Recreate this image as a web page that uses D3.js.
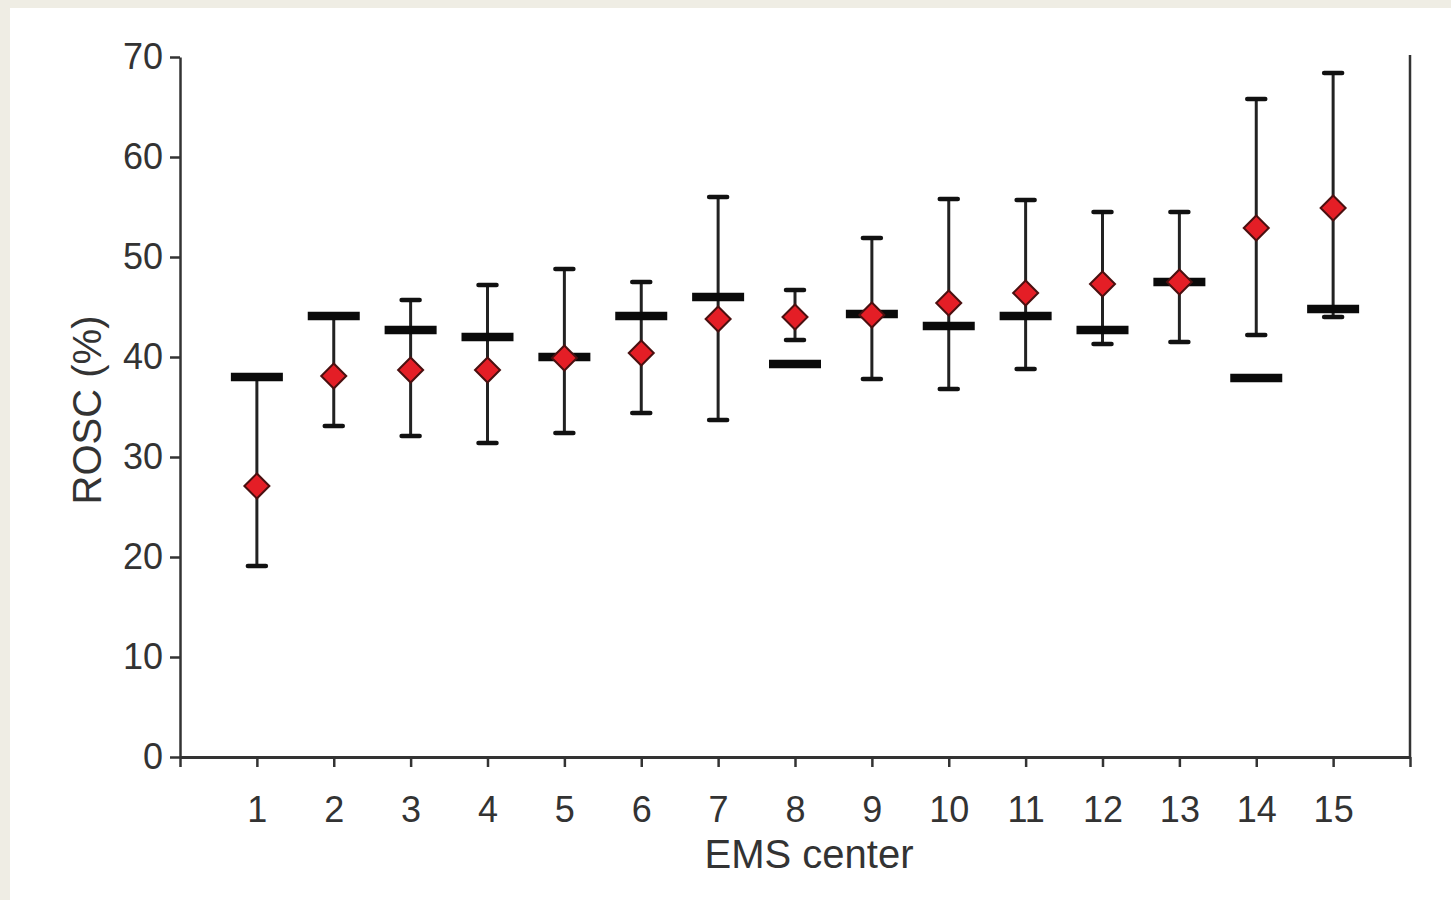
<!DOCTYPE html>
<html>
<head>
<meta charset="utf-8">
<script src="https://cdn.jsdelivr.net/npm/d3@7"></script>
<style>
  html, body { margin: 0; padding: 0; background: #efede4; }
  svg { display: block; }
  text { font-family: "Liberation Sans", Arial, Helvetica, sans-serif; }
</style>
</head>
<body>
<script>
// ---- data ----
const centers  = [1, 2, 3, 4, 5, 6, 7, 8, 9, 10, 11, 12, 13, 14, 15];
const observed = [27.1, 38.1, 38.7, 38.7, 39.9, 40.4, 43.8, 44.0, 44.2, 45.4, 46.4, 47.3, 47.5, 52.9, 54.9];
const lowerCI  = [19.1, 33.1, 32.1, 31.4, 32.4, 34.4, 33.7, 41.7, 37.8, 36.8, 38.8, 41.3, 41.5, 42.2, 44.0];
const upperCI  = [38.0, 44.1, 45.7, 47.2, 48.8, 47.5, 56.0, 46.7, 51.9, 55.8, 55.7, 54.5, 54.5, 65.8, 68.4];
const expected = [38.0, 44.1, 42.7, 42.0, 40.0, 44.1, 46.0, 39.3, 44.3, 43.1, 44.1, 42.7, 47.5, 37.9, 44.8];
const yTicks   = [0, 10, 20, 30, 40, 50, 60, 70];
const xTitle   = "EMS center";
const yTitle   = "ROSC (%)";

const W = 1451, H = 900;
const svg = d3.select("body").append("svg").attr("width", W).attr("height", H);

// white panel
svg.append("rect").attr("x", 10).attr("y", 8).attr("width", W - 10).attr("height", H - 8).attr("fill", "#ffffff");

const x = d3.scaleLinear().domain([0, 16]).range([180, 1410]);
const y = d3.scaleLinear().domain([0, 70]).range([757, 57]);

const ink = "#333333";

// y axis
const gy = svg.append("g").attr("transform", `translate(${x(0)},0)`)
  .call(d3.axisLeft(y).tickValues(yTicks).tickSize(10).tickPadding(7).tickSizeOuter(0));
gy.select(".domain").attr("stroke", ink).attr("stroke-width", 2.5);
gy.selectAll(".tick line").attr("stroke", ink).attr("stroke-width", 2.5);
gy.selectAll(".tick text").attr("font-size", 36).attr("fill", ink);

// x axis
const gx = svg.append("g").attr("transform", `translate(0,${y(0)})`)
  .call(d3.axisBottom(x).tickValues(d3.range(0, 17))
    .tickFormat(d => (d >= 1 && d <= 15) ? String(d) : "")
    .tickSize(10).tickPadding(29).tickSizeOuter(0));
gx.select(".domain").attr("stroke", ink).attr("stroke-width", 3);
gx.selectAll(".tick line").attr("stroke", ink).attr("stroke-width", 2.5);
gx.selectAll(".tick text").attr("font-size", 36).attr("fill", ink);

// right frame line
svg.append("line")
  .attr("x1", x(16)).attr("x2", x(16))
  .attr("y1", y(70.2)).attr("y2", y(0))
  .attr("stroke", ink).attr("stroke-width", 2.5);

// axis titles
svg.append("text")
  .attr("x", (x(0) + x(16)) / 2 + 14).attr("y", 868)
  .attr("text-anchor", "middle").attr("font-size", 40).attr("fill", ink)
  .text(xTitle);
svg.append("text")
  .attr("transform", `translate(101,${y(35) + 3}) rotate(-90)`)
  .attr("text-anchor", "middle").attr("font-size", 40).attr("fill", ink)
  .text(yTitle);

const rows = centers.map((c, i) => ({ c, obs: observed[i], lo: lowerCI[i], hi: upperCI[i], exp: expected[i] }));
const plot = svg.append("g");

// whiskers
plot.selectAll(".whisker").data(rows).join("line")
  .attr("x1", d => x(d.c)).attr("x2", d => x(d.c))
  .attr("y1", d => y(d.lo)).attr("y2", d => y(d.hi))
  .attr("stroke", "#222").attr("stroke-width", 3);
// caps
const capW = 9;
["lo", "hi"].forEach(k => {
  plot.selectAll(".cap-" + k).data(rows).join("line")
    .attr("x1", d => x(d.c) - capW).attr("x2", d => x(d.c) + capW)
    .attr("y1", d => y(d[k])).attr("y2", d => y(d[k]))
    .attr("stroke", "#111").attr("stroke-width", 4.5).attr("stroke-linecap", "round");
});
// expected dashes
const dashW = 26;
plot.selectAll(".exp").data(rows).join("line")
  .attr("x1", d => x(d.c) - dashW).attr("x2", d => x(d.c) + dashW)
  .attr("y1", d => y(d.exp)).attr("y2", d => y(d.exp))
  .attr("stroke", "#0a0a0a").attr("stroke-width", 8.5);
// observed diamonds
const r = 12.5;
plot.selectAll(".obs").data(rows).join("path")
  .attr("d", d => {
    const cx = x(d.c), cy = y(d.obs);
    return `M${cx},${cy - r}L${cx + r},${cy}L${cx},${cy + r}L${cx - r},${cy}Z`;
  })
  .attr("fill", "#e41e26").attr("stroke", "#4a1010").attr("stroke-width", 2);
</script>
</body>
</html>
